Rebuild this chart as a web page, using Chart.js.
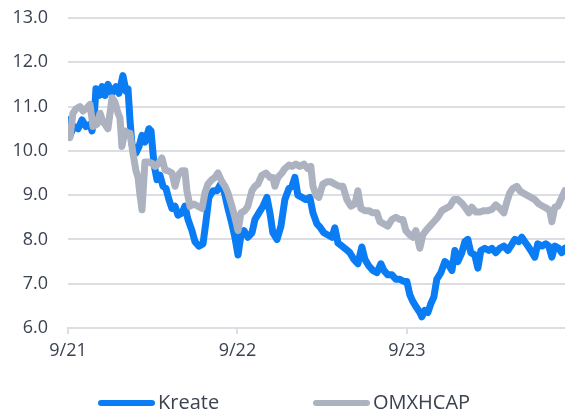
<!DOCTYPE html>
<html>
<head>
<meta charset="utf-8">
<script src="https://cdn.jsdelivr.net/npm/chart.js@4"></script>
<style>
    html, body { margin: 0; padding: 0; background: #fff; }
    #wrap { width: 565px; height: 411px; position: relative; overflow: hidden; }
    #legend { position: absolute; left: 0; top: 389px; width: 565px; height: 26px; font-family: "Open Sans", sans-serif; font-size: 20px; color: #3b4250; }
    .item { position: absolute; top: 0; height: 26px; line-height: 26px; white-space: nowrap; }
    .swatch { display: inline-block; width: 57px; height: 6px; border-radius: 3px; vertical-align: middle; margin-right: 3px; position: relative; top: -1px; }
</style>
</head>
<body>
<div id="wrap">
    <canvas id="chart"></canvas>
    <div id="legend"></div>
</div>
<script>
// x values are months since Sep 2021
var xTickMonths = [0, 12, 24];
var xTickLabels = ['9/21', '9/22', '9/23'];
var yTicks = [6, 7, 8, 9, 10, 11, 12, 13];

var seriesNames = ['Kreate', 'OMXHCAP'];
var seriesColors = ['#0a7cf4', '#adb2c0'];

var kreateMonths = [0, 0.14, 0.42, 0.71, 0.99, 1.27, 1.56, 1.70, 1.84, 1.98, 2.19, 2.41, 2.62, 2.83, 3.12, 3.40, 3.61, 3.89, 4.11, 4.25,
    4.39, 4.53, 4.81, 5.03, 5.24, 5.45, 5.73, 5.88, 6.09, 6.30, 6.51, 6.73, 6.94, 7.15, 7.36, 7.58, 7.79, 8.07, 8.28, 8.50,
    8.78, 8.99, 9.27, 9.56, 9.77, 9.98, 10.27, 10.55, 10.90, 11.12, 11.33, 11.61, 11.82, 12.04, 12.25, 12.46, 12.74, 13.03, 13.24, 13.52,
    13.81, 14.09, 14.30, 14.51, 14.80, 15.08, 15.36, 15.65, 15.86, 16.07, 16.28, 16.57, 16.85, 17.13, 17.35, 17.63, 17.84, 18.12, 18.41, 18.69,
    18.90, 19.12, 19.40, 19.68, 19.96, 20.25, 20.53, 20.81, 21.03, 21.31, 21.59, 21.88, 22.16, 22.37, 22.65, 22.94, 23.22, 23.50, 23.79, 24.00,
    24.21, 24.42, 24.71, 24.92, 25.06, 25.27, 25.49, 25.70, 25.91, 26.12, 26.41, 26.69, 26.90, 27.19, 27.40, 27.61, 27.89, 28.11, 28.32, 28.53,
    28.81, 29.03, 29.24, 29.52, 29.81, 30.02, 30.30, 30.58, 30.87, 31.15, 31.36, 31.65, 31.93, 32.14, 32.35, 32.57, 32.78, 33.06, 33.27, 33.56,
    33.84, 34.05, 34.27, 34.48, 34.76, 34.97, 35.19];
var kreateValues = [10.7, 10.35, 10.55, 10.5, 10.7, 10.55, 10.6, 10.45, 10.7, 11.4, 11.25, 11.45, 11.25, 11.5, 11.3, 11.45, 11.3, 11.7, 11.35, 11.4,
    10.7, 10.15, 9.95, 10.1, 10.35, 10.2, 10.5, 10.45, 9.7, 9.35, 9.45, 9.2, 9.15, 8.9, 8.7, 8.75, 8.55, 8.6, 8.75, 8.45,
    8.2, 7.95, 7.85, 7.9, 8.4, 8.95, 9.1, 9.1, 9.3, 9.0, 8.7, 8.35, 8.05, 7.65, 8.1, 8.2, 8.05, 8.15, 8.45, 8.6,
    8.75, 8.95, 8.6, 8.15, 8.0, 8.3, 8.9, 9.15, 9.2, 9.4, 9.0, 8.95, 8.9, 8.95, 8.6, 8.35, 8.28, 8.15, 8.1, 8.05,
    8.26, 7.92, 7.85, 7.78, 7.7, 7.55, 7.45, 7.83, 7.55, 7.4, 7.3, 7.25, 7.45, 7.3, 7.2, 7.2, 7.1, 7.1, 7.05, 7.05,
    6.75, 6.6, 6.45, 6.35, 6.25, 6.4, 6.35, 6.55, 6.7, 7.1, 7.25, 7.5, 7.45, 7.3, 7.75, 7.5, 7.7, 7.95, 8.0, 7.7,
    7.65, 7.35, 7.75, 7.8, 7.75, 7.8, 7.7, 7.8, 7.85, 7.75, 7.85, 8.0, 7.95, 8.05, 7.95, 7.85, 7.75, 7.6, 7.9, 7.85,
    7.9, 7.85, 7.6, 7.85, 7.8, 7.7, 7.8];

var omxMonths = [0, 0.14, 0.35, 0.57, 0.85, 1.06, 1.27, 1.56, 1.77, 2.05, 2.27, 2.48, 2.62, 2.83, 3.12, 3.33, 3.54, 3.68, 3.82, 4.04,
    4.25, 4.39, 4.60, 4.81, 4.96, 5.10, 5.24, 5.45, 5.66, 5.95, 6.16, 6.37, 6.65, 6.87, 7.08, 7.36, 7.58, 7.79, 8.07, 8.28,
    8.42, 8.64, 8.92, 9.20, 9.49, 9.70, 9.91, 10.19, 10.41, 10.62, 10.90, 11.12, 11.33, 11.61, 11.82, 12.04, 12.25, 12.53, 12.74, 13.03,
    13.24, 13.45, 13.73, 14.02, 14.30, 14.51, 14.65, 14.87, 15.15, 15.36, 15.65, 15.86, 16.14, 16.42, 16.71, 16.99, 17.20, 17.35, 17.56, 17.77,
    18.05, 18.34, 18.62, 18.90, 19.19, 19.47, 19.75, 20.04, 20.32, 20.53, 20.74, 21.03, 21.31, 21.59, 21.88, 22.09, 22.37, 22.65, 22.94, 23.22,
    23.50, 23.72, 23.93, 24.21, 24.42, 24.64, 24.78, 24.92, 25.13, 25.35, 25.63, 25.91, 26.19, 26.48, 26.76, 27.04, 27.33, 27.61, 27.89, 28.18,
    28.39, 28.60, 28.88, 29.17, 29.45, 29.73, 30.02, 30.30, 30.58, 30.87, 31.08, 31.29, 31.50, 31.79, 32.00, 32.21, 32.50, 32.78, 33.06, 33.35,
    33.63, 33.91, 34.12, 34.27, 34.48, 34.69, 34.90, 35.19];
var omxValues = [10.45, 10.3, 10.85, 10.95, 11.0, 10.9, 10.95, 11.05, 10.55, 10.6, 10.85, 10.65, 10.6, 10.5, 11.2, 11.1, 10.85, 10.75, 10.1, 10.45,
    10.4, 10.4, 9.95, 9.55, 9.4, 9.0, 8.67, 9.75, 9.75, 9.72, 9.65, 9.7, 9.84, 9.57, 9.55, 9.5, 9.2, 9.45, 9.55, 9.55,
    9.1, 8.75, 8.8, 8.75, 8.7, 9.05, 9.25, 9.35, 9.4, 9.5, 9.3, 9.2, 9.05, 8.75, 8.5, 8.2, 8.6, 8.65, 8.75, 9.1,
    9.2, 9.25, 9.45, 9.5, 9.4, 9.4, 9.2, 9.4, 9.5, 9.6, 9.68, 9.65, 9.7, 9.65, 9.7, 9.6, 9.65, 9.2, 9.0, 8.95,
    9.25, 9.3, 9.3, 9.25, 9.2, 9.2, 8.9, 8.75, 8.8, 9.1, 8.7, 8.65, 8.65, 8.6, 8.6, 8.4, 8.35, 8.3, 8.45, 8.5,
    8.45, 8.45, 8.2, 8.1, 8.05, 8.2, 8.0, 7.8, 8.1, 8.2, 8.3, 8.4, 8.5, 8.65, 8.7, 8.75, 8.9, 8.9, 8.82, 8.7,
    8.6, 8.73, 8.62, 8.62, 8.65, 8.65, 8.68, 8.78, 8.7, 8.6, 8.85, 9.05, 9.15, 9.2, 9.1, 9.05, 9.0, 8.95, 8.9, 8.8,
    8.75, 8.7, 8.65, 8.4, 8.73, 8.75, 8.9, 9.1];

function toPoints(xs, ys) {
    var pts = [];
    for (var i = 0; i < xs.length; i++) {
        pts.push({ x: xs[i], y: ys[i] });
    }
    return pts;
}

var textColor = '#3b4250';
var gridColor = '#dcdee4';
var fontFamily = '"Open Sans", sans-serif';

new Chart(document.getElementById('chart'), {
    type: 'line',
    data: {
        datasets: [
            {
                label: seriesNames[0],
                data: toPoints(kreateMonths, kreateValues),
                borderColor: seriesColors[0],
                borderWidth: 7,
                pointRadius: 0,
                borderJoinStyle: 'round',
                borderCapStyle: 'round',
                order: 1
            },
            {
                label: seriesNames[1],
                data: toPoints(omxMonths, omxValues),
                borderColor: seriesColors[1],
                borderWidth: 7,
                pointRadius: 0,
                borderJoinStyle: 'round',
                borderCapStyle: 'round',
                order: 0
            }
        ]
    },
    options: {
        responsive: true,
        maintainAspectRatio: false,
        animation: false,
        layout: { padding: { top: 18, right: 0, left: 0, bottom: 43 } },
        scales: {
            x: {
                type: 'linear',
                min: 0,
                max: 35.2,
                afterBuildTicks: function (scale) {
                    scale.ticks = xTickMonths.map(function (m) { return { value: m }; });
                },
                afterFit: function (scale) {
                    scale.height = 40;
                    scale.paddingLeft = 0;
                    scale.paddingRight = 0;
                },
                ticks: {
                    autoSkip: false,
                    maxRotation: 0,
                    color: textColor,
                    font: { family: fontFamily, size: 18 },
                    padding: 6,
                    callback: function (value) {
                        var i = xTickMonths.indexOf(value);
                        return i >= 0 ? xTickLabels[i] : '';
                    }
                },
                grid: {
                    drawOnChartArea: false,
                    drawTicks: true,
                    tickLength: 6,
                    color: gridColor,
                    lineWidth: 2
                },
                border: { display: true, color: gridColor, width: 2 }
            },
            y: {
                min: 6,
                max: 13,
                afterBuildTicks: function (scale) {
                    scale.ticks = yTicks.map(function (v) { return { value: v }; });
                },
                afterFit: function (scale) {
                    scale.width = 68;
                    scale.paddingTop = 0;
                    scale.paddingBottom = 0;
                },
                ticks: {
                    color: textColor,
                    font: { family: fontFamily, size: 18 },
                    padding: 20,
                    callback: function (value) { return value.toFixed(1); }
                },
                grid: {
                    color: gridColor,
                    lineWidth: 2,
                    drawTicks: false
                },
                border: { display: false }
            }
        },
        plugins: {
            tooltip: { enabled: false },
            legend: { display: false }
        }
    }
});

// legend as html, placed like the original
var legendLeft = [98, 313];
var legend = document.getElementById('legend');
for (var i = 0; i < seriesNames.length; i++) {
    legend.insertAdjacentHTML('beforeend',
        '<div class="item" style="left:' + legendLeft[i] + 'px"><span class="swatch" style="background:' +
        seriesColors[i] + '"></span>' + seriesNames[i] + '</div>');
}
</script>
</body>
</html>
